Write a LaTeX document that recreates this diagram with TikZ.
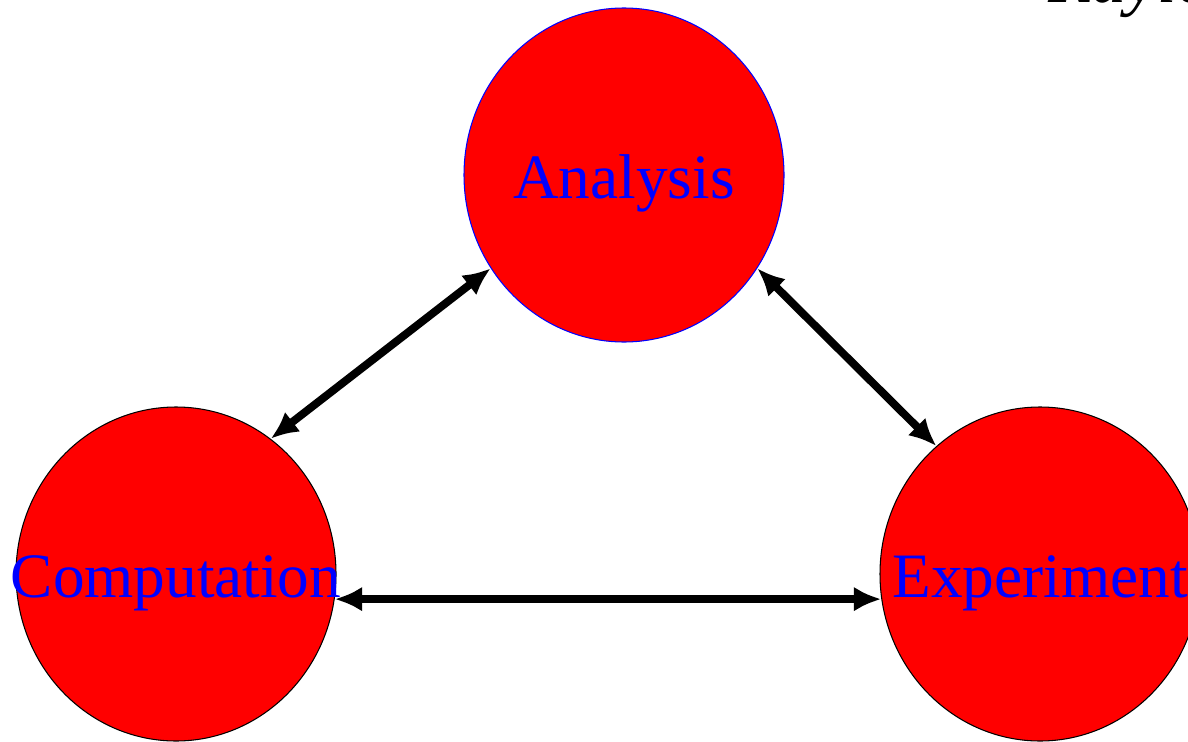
\documentclass[tikz,border=0pt]{standalone}
\usepackage{fontspec}
\setmainfont{Liberation Serif}
\usepackage{tikz}
\usetikzlibrary{arrows.meta,shapes.geometric}

\begin{document}
\begin{tikzpicture}
            \tikzset{
                vertex/.style={ellipse,draw=black,line width=0.6pt,fill=red,
                    minimum width=6.4cm,minimum height=6.68cm,inner sep=0pt},
                vtext/.style={text=blue,font=\fontsize{36}{40}\selectfont,inner sep=0pt},
                edge/.style={<->,> = {Latex[length=5.5mm,width=5mm]},line width=4.5pt}
            }
            \useasboundingbox (0,0) rectangle (23.76,-14.84);
            \clip (0,0) rectangle (23.76,-14.84);
            % vertices
            \node[vertex,draw=blue] (ana) at (12.48,-3.5) {};
            \node[vertex] (comp) at (3.52,-11.48) {};
            \node[vertex] (exp) at (20.8,-11.48) {};
            \node[vtext] (anatext) at (12.48,-3.66) {Analysis};
            \node[vtext] (comptext) at (3.52,-11.66) {Computation};
            \node[vtext] (exptext) at (20.8,-11.66) {Experiment};
            \node[anchor=base west,inner sep=0pt,font=\fontsize{40}{44}\selectfont\itshape] (title) at (20.96,-0.06) {Rayle};

            %edges
            \draw[edge] (comp.55) -- (ana.215);
            \draw[edge] (ana.325) -- (exp.129);
            \draw[edge] (comp.351) -- (exp.189);
\end{tikzpicture}
\end{document}
